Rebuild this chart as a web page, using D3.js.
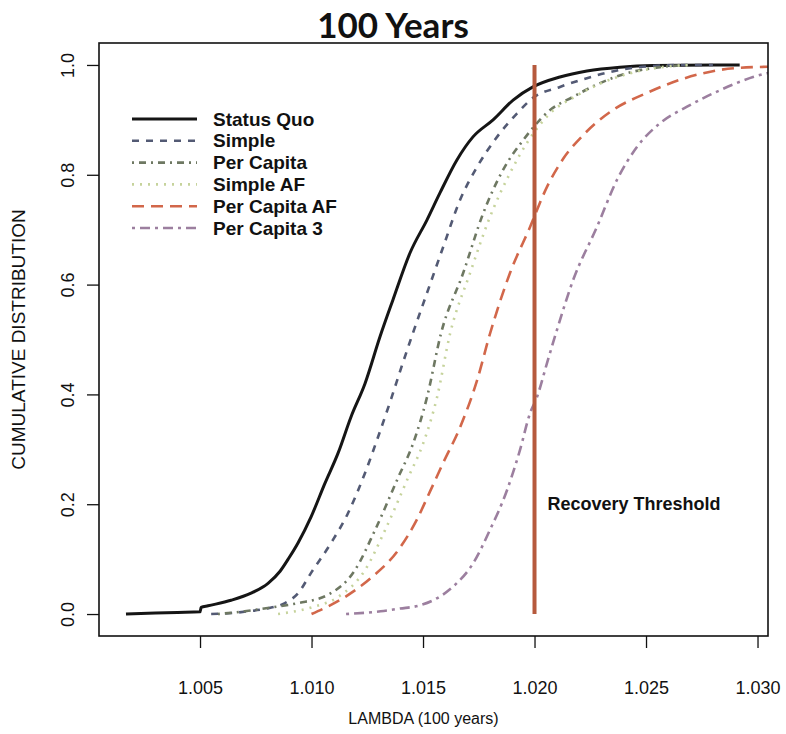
<!DOCTYPE html>
<html>
<head>
<meta charset="utf-8">
<script src="https://cdn.jsdelivr.net/npm/d3@7"></script>
<style>
  html, body { margin: 0; padding: 0; background: #fff; }
  svg { display: block; }
  text { font-family: "Liberation Sans", Arial, sans-serif; fill: #111; }
</style>
</head>
<body>
<svg id="chart" width="786" height="734"></svg>
<script>
// Empirical cumulative distributions of the 100-year population growth rate (lambda)
const seriesNames = ["Status Quo", "Simple", "Per Capita", "Simple AF", "Per Capita AF", "Per Capita 3"];

const statusQuoLambda = [1.00168, 1.0030, 1.0040, 1.0050, 1.00505, 1.00536, 1.00639, 1.00729, 1.00805, 1.00859, 1.0090, 1.0094, 1.00998, 1.0106, 1.01119, 1.01177, 1.0124, 1.01307, 1.01365, 1.01442, 1.01518, 1.01576, 1.01652, 1.01724, 1.01814, 1.01904, 1.01993, 1.02114, 1.02235, 1.02383, 1.02531, 1.0292];
const statusQuoCdf    = [0, 0.002, 0.003, 0.004, 0.012, 0.015, 0.025, 0.038, 0.056, 0.078, 0.103, 0.13, 0.177, 0.238, 0.293, 0.359, 0.42, 0.505, 0.572, 0.658, 0.718, 0.767, 0.827, 0.869, 0.90, 0.936, 0.96, 0.978, 0.989, 0.996, 0.999, 1.0];

const simpleLambda = [1.0055, 1.0065, 1.00715, 1.0080, 1.00881, 1.0094, 1.00998, 1.01087, 1.01164, 1.0124, 1.01298, 1.01357, 1.01401, 1.01455, 1.01518, 1.0159, 1.01666, 1.01742, 1.01832, 1.01922, 1.01993, 1.02114, 1.02235, 1.02383, 1.0253, 1.0268, 1.028];
const simpleCdf    = [0, 0.002, 0.005, 0.01, 0.02, 0.038, 0.075, 0.129, 0.184, 0.257, 0.322, 0.392, 0.447, 0.512, 0.585, 0.668, 0.754, 0.814, 0.869, 0.912, 0.94, 0.96, 0.976, 0.991, 0.998, 1.0, 1.0];

const perCapitaLambda = [1.0058, 1.0070, 1.0082, 1.0094, 1.01074, 1.01195, 1.01285, 1.0139, 1.01455, 1.01518, 1.0158, 1.0168, 1.0177, 1.01859, 1.01949, 1.0207, 1.02173, 1.02294, 1.02415, 1.02563, 1.027];
const perCapitaCdf    = [0, 0.005, 0.012, 0.02, 0.035, 0.08, 0.153, 0.25, 0.31, 0.395, 0.51, 0.621, 0.73, 0.809, 0.863, 0.918, 0.942, 0.967, 0.985, 0.996, 1.0];

const simpleAFLambda = [1.0085, 1.0100, 1.01119, 1.0124, 1.0133, 1.01435, 1.015, 1.01563, 1.01621, 1.01711, 1.018, 1.0189, 1.01966, 1.0207, 1.0218, 1.023, 1.0243, 1.0257, 1.027];
const simpleAFCdf    = [0, 0.012, 0.031, 0.08, 0.153, 0.25, 0.31, 0.395, 0.51, 0.621, 0.723, 0.803, 0.858, 0.912, 0.942, 0.967, 0.985, 0.996, 1.0];

const perCapitaAFLambda = [1.0100, 1.0115, 1.0127, 1.0139, 1.0147, 1.0153, 1.0159, 1.01666, 1.01742, 1.018, 1.0189, 1.0198, 1.02056, 1.0213, 1.0222, 1.02352, 1.02504, 1.02652, 1.02832, 1.0298, 1.031];
const perCapitaAFCdf    = [0, 0.031, 0.067, 0.117, 0.17, 0.222, 0.275, 0.34, 0.425, 0.51, 0.621, 0.705, 0.778, 0.83, 0.873, 0.918, 0.949, 0.973, 0.991, 0.996, 0.997];

const perCapita3Lambda = [1.01155, 1.0131, 1.01397, 1.01478, 1.01545, 1.01635, 1.01724, 1.018, 1.01877, 1.01935, 1.0198, 1.02011, 1.02056, 1.02095, 1.02173, 1.0228, 1.0237, 1.0246, 1.02563, 1.02684, 1.02832, 1.0298, 1.031];
const perCapita3Cdf    = [0, 0.005, 0.01, 0.015, 0.025, 0.05, 0.092, 0.153, 0.226, 0.299, 0.366, 0.395, 0.457, 0.51, 0.608, 0.705, 0.791, 0.851, 0.894, 0.924, 0.954, 0.978, 0.99];

const xTicks = [1.005, 1.010, 1.015, 1.020, 1.025, 1.030];
const yTicks = [0.0, 0.2, 0.4, 0.6, 0.8, 1.0];
const recoveryThreshold = 1.020;

// Line styles per series
const styles = [
  { color: "#151515", dash: null,        width: 3.0 },
  { color: "#535a74", dash: "7,7",       width: 2.6 },
  { color: "#6e7862", dash: "2,5,7,5",   width: 2.6 },
  { color: "#c6d39c", dash: "2,6",       width: 2.6 },
  { color: "#d2674a", dash: "12,7",      width: 2.6 },
  { color: "#9c7f9f", dash: "3,5,10,5",  width: 2.6 }
];

const lambdas = [statusQuoLambda, simpleLambda, perCapitaLambda, simpleAFLambda, perCapitaAFLambda, perCapita3Lambda];
const cdfs = [statusQuoCdf, simpleCdf, perCapitaCdf, simpleAFCdf, perCapitaAFCdf, perCapita3Cdf];
const series = seriesNames.map((name, i) => ({
  name,
  points: lambdas[i].map((x, j) => ({ x, y: cdfs[i][j] })),
  style: styles[i]
}));

const svg = d3.select("#chart");
const box = { left: 99, right: 768, top: 43, bottom: 636 };

const x = d3.scaleLinear().domain([1.00047, 1.03047]).range([box.left, box.right]);
const y = d3.scaleLinear().domain([-0.04, 1.04]).range([box.bottom, box.top]);

svg.append("defs").append("clipPath").attr("id", "plotClip")
  .append("rect")
  .attr("x", box.left).attr("y", box.top)
  .attr("width", box.right - box.left).attr("height", box.bottom - box.top);

// Title
svg.append("text")
  .attr("x", 393).attr("y", 38)
  .attr("text-anchor", "middle")
  .style("font-family", "Lato, 'Open Sans', sans-serif")
  .style("font-weight", "bold")
  .style("font-size", "35px")
  .text("100 Years");

// Curves
const line = d3.line()
  .x(d => x(d.x))
  .y(d => y(d.y))
  .curve(d3.curveMonotoneX);

const curves = svg.append("g").attr("clip-path", "url(#plotClip)");
curves.selectAll("path.cdf")
  .data(series)
  .join("path")
  .attr("class", "cdf")
  .attr("d", d => line(d.points))
  .attr("fill", "none")
  .attr("stroke", d => d.style.color)
  .attr("stroke-width", d => d.style.width)
  .attr("stroke-dasharray", d => d.style.dash)
  .attr("stroke-linejoin", "round");

// Recovery threshold
curves.append("line")
  .attr("x1", x(recoveryThreshold)).attr("x2", x(recoveryThreshold))
  .attr("y1", y(0)).attr("y2", y(1))
  .attr("stroke", "#b65a3d")
  .attr("stroke-width", 4);

svg.append("text")
  .attr("x", x(recoveryThreshold) + 13).attr("y", y(0.2) + 6)
  .style("font-size", "18px")
  .style("font-weight", "bold")
  .text("Recovery Threshold");

// Axes
const xAxis = svg.append("g")
  .attr("transform", `translate(0,${box.bottom})`)
  .call(d3.axisBottom(x).tickValues(xTicks).tickFormat(d3.format(".3f")).tickSize(12).tickPadding(33));
const yAxis = svg.append("g")
  .attr("transform", `translate(${box.left},0)`)
  .call(d3.axisLeft(y).tickValues(yTicks).tickFormat(d3.format(".1f")).tickSize(12).tickPadding(6));

[xAxis, yAxis].forEach(g => {
  g.select(".domain").remove();
  g.selectAll(".tick line").attr("stroke", "#111").attr("stroke-width", 1.3);
  g.selectAll(".tick text")
    .style("font-family", "'Liberation Sans', Arial, sans-serif")
    .style("font-size", "18px")
    .attr("fill", "#111");
});

// Rotate y tick labels so they read upward, as in base graphics
yAxis.selectAll(".tick text")
  .attr("x", null).attr("dy", null)
  .attr("text-anchor", "middle")
  .attr("transform", "translate(-31,0) rotate(-90)")
  .attr("dy", "0.35em");

// Plot frame
svg.append("rect")
  .attr("x", box.left).attr("y", box.top)
  .attr("width", box.right - box.left).attr("height", box.bottom - box.top)
  .attr("fill", "none")
  .attr("stroke", "#111")
  .attr("stroke-width", 1.6);

// Axis titles
svg.append("text")
  .attr("x", (box.left + box.right) / 2 - 10).attr("y", 724)
  .attr("text-anchor", "middle")
  .style("font-size", "16px")
  .text("LAMBDA (100 years)");

svg.append("text")
  .attr("transform", `translate(25,${(box.top + box.bottom) / 2}) rotate(-90)`)
  .attr("text-anchor", "middle")
  .style("font-size", "19px")
  .text("CUMULATIVE DISTRIBUTION");

// Legend
const legend = svg.append("g");
const rowGap = 21.8;
series.forEach((s, i) => {
  const yy = 119 + i * rowGap;
  legend.append("line")
    .attr("x1", 132).attr("x2", 197)
    .attr("y1", yy).attr("y2", yy)
    .attr("stroke", s.style.color)
    .attr("stroke-width", s.style.width)
    .attr("stroke-dasharray", s.style.dash);
  legend.append("text")
    .attr("x", 213).attr("y", yy)
    .attr("dy", "0.35em")
    .style("font-size", "19px")
    .style("font-weight", "bold")
    .text(s.name);
});
</script>
</body>
</html>
